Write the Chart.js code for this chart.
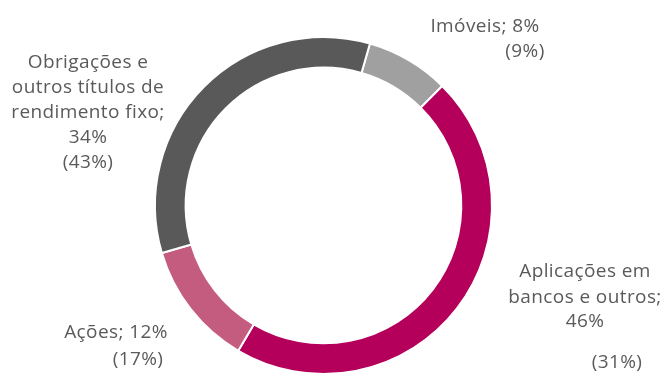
<!DOCTYPE html>
<html>
<head>
<meta charset="utf-8">
<script src="https://cdn.jsdelivr.net/npm/chart.js@4.4.1/dist/chart.umd.min.js"></script>
<style>
  html, body { margin: 0; padding: 0; background: #fff; overflow: hidden; }
  #wrap { position: relative; width: 660px; height: 380px; }
</style>
</head>
<body>
<div id="wrap"><canvas id="donut"></canvas></div>
<script>
// shares (current) and figure in brackets
const categories = ['Imóveis', 'Aplicações em bancos e outros', 'Ações', 'Obrigações e outros títulos de rendimento fixo']
const shares = [8, 46, 12, 34]
const bracketShares = [9, 31, 17, 43]
const sliceColors = ['#a0a0a0', '#b4005a', '#c45c80', '#595959']

// how many words go on each line of a label, and where the lines sit
const labelLayout = [
    { words: [2], lines: [[485, 27]], bracket: [525, 52] },
    { words: [2, 3, 1], lines: [[585, 272], [585, 298], [585, 322]], bracket: [617, 363] },
    { words: [2], lines: [[116, 333]], bracket: [138, 360] },
    { words: [2, 3, 2, 1], lines: [[88, 63], [88, 88], [88, 113], [88, 138]], bracket: [88, 163] },
]

const labelPlugin = {
    id: 'sliceLabels',
    afterDatasetsDraw(chart) {
        const ctx = chart.ctx
        ctx.save()
        ctx.font = '19px "Open Sans"'
        ctx.letterSpacing = '0.4px'
        ctx.fillStyle = '#5a5a5a'
        ctx.textAlign = 'center'
        ctx.textBaseline = 'middle'
        categories.forEach((cat, i) => {
            const words = (cat + '; ' + shares[i] + '%').split(' ')
            const lay = labelLayout[i]
            let k = 0
            lay.words.forEach((n, j) => {
                const txt = words.slice(k, k + n).join(' ')
                k += n
                ctx.fillText(txt, lay.lines[j][0], lay.lines[j][1])
            })
            ctx.fillText('(' + bracketShares[i] + '%)', lay.bracket[0], lay.bracket[1])
        })
        ctx.restore()
    }
}

new Chart(document.getElementById('donut'), {
    type: 'doughnut',
    data: {
        labels: categories,
        datasets: [{
            data: shares,
            backgroundColor: sliceColors,
            borderColor: '#ffffff',
            borderWidth: 2,
        }],
    },
    options: {
        responsive: true,
        maintainAspectRatio: false,
        animation: false,
        rotation: 16,
        cutout: '81.8%',
        layout: { padding: { top: 36, bottom: 5, left: 0, right: 13 } },
        plugins: {
            legend: { display: false },
            tooltip: { enabled: false },
        },
    },
    plugins: [labelPlugin],
})
</script>
</body>
</html>
